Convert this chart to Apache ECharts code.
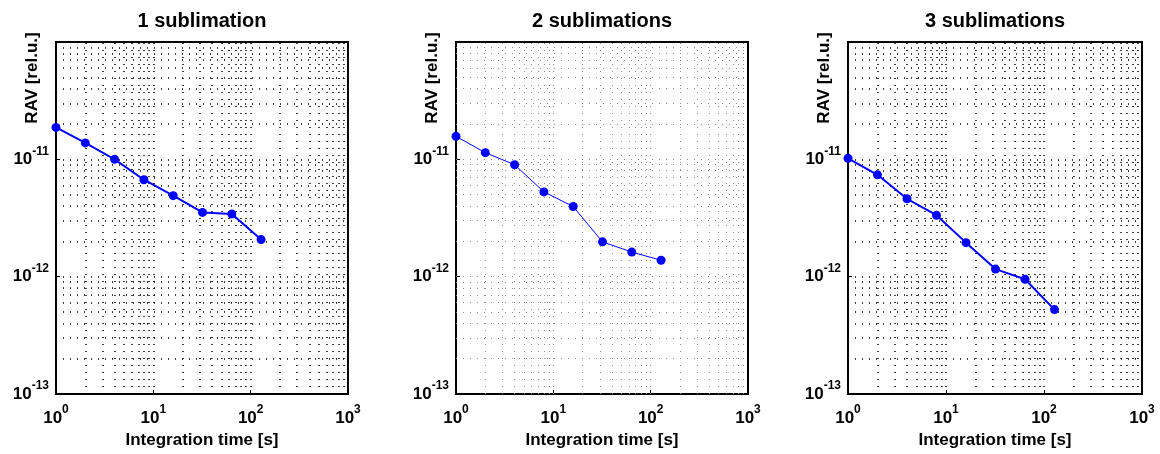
<!DOCTYPE html>
<html>
<head>
<meta charset="utf-8">
<script src="https://cdn.jsdelivr.net/npm/echarts@6/dist/echarts.min.js"></script>
<style>
  html, body { margin: 0; padding: 0; background: #fff; }
  #chart { width: 1160px; height: 454px; }
</style>
</head>
<body>
<div id="chart"></div>
<script>
// integration times (s) and RAV values
var times = [1, 2, 4, 8, 16, 32, 64, 128];
var rav1 = [1.87e-11, 1.38e-11, 1.0e-11, 6.7e-12, 4.9e-12, 3.53e-12, 3.42e-12, 2.07e-12];
var rav2 = [1.57e-11, 1.14e-11, 9.0e-12, 5.28e-12, 3.96e-12, 1.98e-12, 1.62e-12, 1.38e-12];
var rav3 = [1.02e-11, 7.38e-12, 4.61e-12, 3.34e-12, 1.95e-12, 1.16e-12, 9.5e-13, 5.24e-13];
var titles = ['1 sublimation', '2 sublimations', '3 sublimations'];
var xDecades = [0, 1, 2];
var yDecades = [-13, -12, -11];
var xRange = [1, 1000];
var yRange = [1e-13, 1e-10];

var FONT = 'Liberation Sans, Arial, Helvetica, sans-serif';
var panels = [
    { left: 56, width: 292, data: rav1, grid: '#000', gw: 1.5, lw: 2 },
    { left: 456, width: 292, data: rav2, grid: '#8c8c8c', gw: 1, lw: 1 },
    { left: 848, width: 294, data: rav3, grid: '#000', gw: 1.5, lw: 2 }
];
var TOP = 42, HEIGHT = 354;

// log grid lines: 1..9 in every decade, the first one lies on the frame
function logLines(decades) {
    var out = [];
    decades.forEach(function (e) {
        for (var m = 1; m <= 9; m++) {
            if (m === 1 && e === decades[0]) continue;
            out.push(m * Math.pow(10, e));
        }
    });
    return out;
}

function powLabel(v) {
    var e = Math.round(Math.log10(v));
    return '{b|10}{s|' + e + '}';
}

var rich = {
    b: { fontSize: 17, fontWeight: 'bold', fontFamily: FONT, color: '#000', lineHeight: 28 },
    s: { fontSize: 12, fontWeight: 'bold', fontFamily: FONT, color: '#000', lineHeight: 12, verticalAlign: 'top' }
};
var nameStyle = { fontSize: 17, fontWeight: 'bold', fontFamily: FONT, color: '#000' };

var grids = [], xAxes = [], yAxes = [], series = [], graphics = [];

panels.forEach(function (p, i) {
    grids.push({
        left: p.left, top: TOP, width: p.width, height: HEIGHT,
        show: true, borderColor: '#000', borderWidth: 2, backgroundColor: '#fff'
    });
    xAxes.push({
        gridIndex: i, type: 'log', logBase: 10, min: xRange[0], max: xRange[1],
        axisLine: { show: false },
        axisTick: { inside: true, length: 4, lineStyle: { color: '#000' } },
        splitLine: { show: false },
        axisLabel: { margin: 10, formatter: powLabel, rich: rich },
        name: 'Integration time [s]', nameLocation: 'middle', nameGap: 38,
        nameTextStyle: nameStyle
    });
    yAxes.push({
        gridIndex: i, type: 'log', logBase: 10, min: yRange[0], max: yRange[1],
        axisLine: { show: false },
        axisTick: { inside: true, length: 4, lineStyle: { color: '#000' } },
        splitLine: { show: false },
        axisLabel: {
            margin: 7,
            formatter: function (v) {
                return Math.round(Math.log10(v)) === -10 ? '' : powLabel(v);
            },
            rich: rich
        }
    });

    var marks = logLines(xDecades).map(function (v) {
        return [{ coord: [v, yRange[0]] }, { coord: [v, yRange[1]] }];
    }).concat(logLines(yDecades).map(function (v) {
        return [{ coord: [xRange[0], v] }, { coord: [xRange[1], v] }];
    }));
    series.push({
        type: 'line', xAxisIndex: i, yAxisIndex: i, data: [], z: 1,
        silent: true,
        markLine: {
            silent: true, symbol: 'none', animation: false,
            label: { show: false },
            lineStyle: { color: p.grid, width: p.gw, type: [1, 6] },
            emphasis: { disabled: true },
            data: marks
        }
    });
    series.push({
        type: 'line', xAxisIndex: i, yAxisIndex: i, z: 5,
        data: times.map(function (t, k) { return [t, p.data[k]]; }),
        symbol: 'circle', symbolSize: 9, showSymbol: true,
        lineStyle: { color: '#0000ff', width: p.lw },
        itemStyle: { color: '#0000ff' },
        animation: false
    });

    graphics.push({
        type: 'text', x: p.left + p.width / 2, y: 21,
        style: { text: titles[i], fontSize: 20, fontWeight: 'bold', fontFamily: FONT,
                 fill: '#000', align: 'center', verticalAlign: 'middle' }
    });
    graphics.push({
        type: 'text', x: p.left - 24, y: 78, rotation: Math.PI / 2,
        style: { text: 'RAV [rel.u.]', fontSize: 17, fontWeight: 'bold', fontFamily: FONT,
                 fill: '#000', align: 'center', verticalAlign: 'middle' }
    });
});

var chart = echarts.init(document.getElementById('chart'));
chart.setOption({
    animation: false,
    grid: grids,
    xAxis: xAxes,
    yAxis: yAxes,
    series: series,
    graphic: graphics
});
</script>
</body>
</html>
